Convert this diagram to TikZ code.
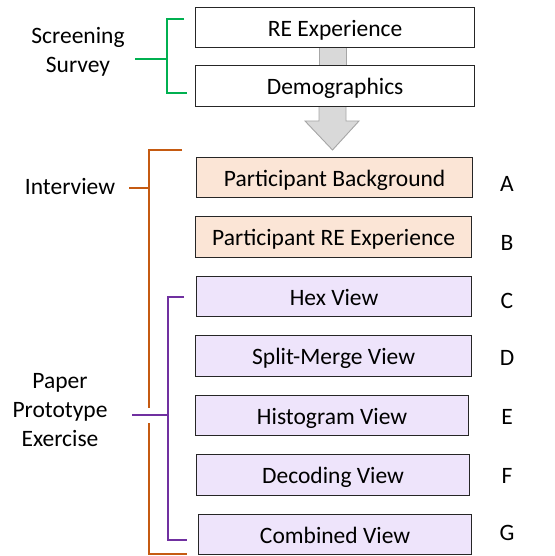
\documentclass[tikz,border=0pt]{standalone}
\usepackage{fontspec}
\setmainfont{Carlito}
\definecolor{peach}{HTML}{FBE5D6}
\definecolor{lav}{HTML}{EEE4FB}
\definecolor{grayfill}{HTML}{D9D9D9}
\definecolor{grayline}{HTML}{A6A6A6}
\definecolor{bgreen}{HTML}{00B050}
\definecolor{borange}{HTML}{C55A11}
\definecolor{bpurple}{HTML}{7030A0}
\begin{document}
\begin{tikzpicture}[x=1pt,y=-1pt,
  txt/.style={font=\fontsize{23.5}{29}\selectfont},
  box/.style={txt,draw=black!85,line width=1.2pt,inner sep=0pt,text height=17pt,text depth=0pt,anchor=north west},
  wbox/.style={box,fill=white},
  pbox/.style={box,fill=peach},
  lbox/.style={box,fill=lav},
  lbl/.style={txt,align=center},
  brk/.style={line width=2.2pt}]
\useasboundingbox (0,0) rectangle (554,556);
% gray arrow
\fill[grayfill] (319,46) rectangle (346,66);
\draw[grayline,line width=0.9pt] (319,46) -- (319,66) (346,46) -- (346,66);
\draw[grayline,fill=grayfill,line width=0.9pt] (319,105) -- (319,121) -- (305,121) -- (332.5,150) -- (359,121) -- (346,121) -- (346,105);
% boxes
\node[wbox,minimum width=279,minimum height=40] (re) at (195,7) {RE Experience};
\node[wbox,minimum width=279,minimum height=41] (demo) at (195,65) {Demographics};
\node[pbox,minimum width=276,minimum height=40] (a) at (196,157) {Participant Background};
\node[pbox,minimum width=276,minimum height=41] (b) at (195,216) {Participant RE Experience};
\node[lbox,minimum width=275,minimum height=40] (c) at (196,276) {Hex View};
\node[lbox,minimum width=276,minimum height=41] (d) at (195,335) {Split-Merge View};
\node[lbox,minimum width=273,minimum height=40] (e) at (195,395) {Histogram View};
\node[lbox,minimum width=273,minimum height=41] (f) at (196,454) {Decoding View};
\node[lbox,minimum width=273,minimum height=40] (g) at (198,514) {Combined View};
% letters
\node[txt] (la) at (507,184) {A};
\node[txt] (lb) at (507,243) {B};
\node[txt] (lc) at (507,301) {C};
\node[txt] (ld) at (507,358) {D};
\node[txt] (le) at (507,417) {E};
\node[txt] (lf) at (507,476) {F};
\node[txt] (lg) at (507,533) {G};
% labels
\node[lbl] (ss) at (78,52) {Screening\\Survey};
\node[lbl] (iv) at (70,187) {Interview};
\node[lbl] (pp) at (60,410) {Paper\\Prototype\\Exercise};
% brackets
\draw[brk,bgreen] (184,19) -- (167,19) -- (167,93) -- (187,93);
\draw[brk,bgreen] (135,59) -- (167,59);
\draw[brk,borange] (182,150) -- (149,150) -- (149,554) -- (187,554);
\draw[brk,borange] (129,188) -- (149,188);
\fill[white] (144,408) rectangle (154,423);
\draw[brk,bpurple] (184,297) -- (168,297) -- (168,540) -- (187,540);
\draw[brk,bpurple] (132,415) -- (168,415);
\end{tikzpicture}
\end{document}
